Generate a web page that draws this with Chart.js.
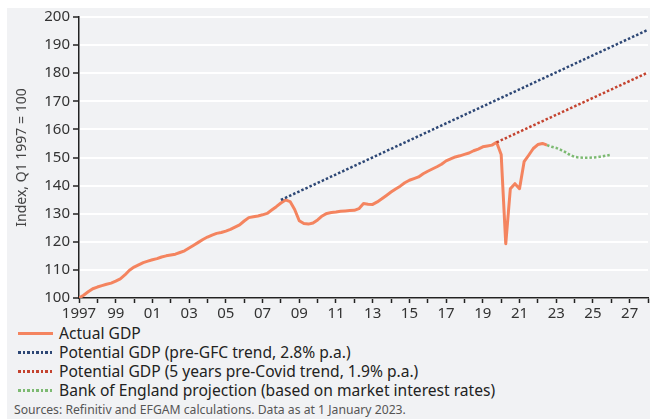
<!DOCTYPE html>
<html>
<head>
<meta charset="utf-8">
<script src="https://cdn.jsdelivr.net/npm/chart.js@4.4.0/dist/chart.umd.min.js"></script>
<style>
  html, body { margin: 0; padding: 0; background: #fff; }
  #wrap { position: relative; width: 650px; height: 419px; overflow: hidden; font-family: "Noto Sans", sans-serif; }
  #panel { position: absolute; left: 7px; top: 8px; right: 0; bottom: 0; background: #f1f2f4; }
  #gdpChart { position: absolute; left: 0; top: 0; }
  #legend { position: absolute; left: 18px; top: 324px; color: #222; font-size: 15.6px; line-height: 19px; }
  .legend-row { display: flex; align-items: center; white-space: nowrap; }
  .legend-swatch { width: 35px; height: 3px; margin-right: 6px; }
  #sources { position: absolute; left: 14px; top: 401px; color: #555; font-size: 12.2px; white-space: nowrap; }
</style>
</head>
<body>
<div id="wrap">
  <div id="panel"></div>
  <canvas id="gdpChart" width="650" height="322"></canvas>
  <div id="legend"></div>
  <div id="sources">Sources: Refinitiv and EFGAM calculations. Data as at 1 January 2023.</div>
</div>
<script>
// quarterly index, Q1 1997 = 100
const actualStart = 1997;
const actualGdp = [
  100.0, 101.0, 102.2, 103.3,
  103.9, 104.4, 104.9, 105.3,
  106.0, 106.8, 108.2, 109.9,
  111.0, 111.8, 112.6, 113.1,
  113.6, 114.0, 114.6, 115.0,
  115.3, 115.6, 116.2, 116.8,
  117.8, 118.8, 119.8, 120.8,
  121.7, 122.4, 123.0, 123.3,
  123.8, 124.4, 125.2, 126.0,
  127.4, 128.6, 128.9, 129.2,
  129.6, 130.1, 131.3, 132.5,
  133.8, 134.9, 134.3, 131.5,
  127.5, 126.5, 126.3, 126.7,
  127.8, 129.2, 130.1, 130.4,
  130.6, 130.9, 131.0, 131.1,
  131.2, 131.8, 133.6, 133.4,
  133.3, 134.2, 135.3, 136.5,
  137.7, 138.8, 139.8, 141.0,
  141.9, 142.5, 143.1, 144.2,
  145.1, 145.9, 146.7, 147.6,
  148.8, 149.5, 150.2, 150.6,
  151.1, 151.6, 152.4, 153.0,
  153.8, 154.1, 154.4, 155.4,
  151.1, 119.3, 138.9, 140.7,
  138.9, 148.5, 150.8, 153.2,
  154.6, 155.0, 154.4
];

const boeStart = 2022.5;
const boeProjection = [
  154.4, 153.8, 153.4, 152.7, 151.9, 150.9, 150.2, 150.0,
  149.9, 149.9, 150.0, 150.1, 150.4, 150.7, 151.0
];

// trend lines: [start, end]
const preGfcYears = [2008.0, 2027.92];
const preGfcValues = [134.9, 195.2];
const preCovidYears = [2019.75, 2027.92];
const preCovidValues = [155.4, 180.0];

const yTicks = [100, 110, 120, 130, 140, 150, 160, 170, 180, 190, 200];

const seriesInfo = [
  { label: 'Actual GDP', color: '#f4845f', dotted: false },
  { label: 'Potential GDP (pre-GFC trend, 2.8% p.a.)', color: '#2d4775', dotted: true },
  { label: 'Potential GDP (5 years pre-Covid trend, 1.9% p.a.)', color: '#c4432f', dotted: true },
  { label: 'Bank of England projection (based on market interest rates)', color: '#7dba72', dotted: true }
];

function quarterly(start, values) {
  return values.map((v, i) => ({ x: start + i / 4, y: v }));
}

function paired(xs, ys) {
  return xs.map((x, i) => ({ x: x, y: ys[i] }));
}

const dotted = { borderWidth: 2.5, borderDash: [2.5, 2], borderCapStyle: 'butt', pointRadius: 0, tension: 0 };

const ctx = document.getElementById('gdpChart');
new Chart(ctx, {
  type: 'line',
  data: {
    datasets: [
      Object.assign({ label: seriesInfo[1].label, data: paired(preGfcYears, preGfcValues), borderColor: seriesInfo[1].color }, dotted),
      Object.assign({ label: seriesInfo[2].label, data: paired(preCovidYears, preCovidValues), borderColor: seriesInfo[2].color }, dotted),
      Object.assign({ label: seriesInfo[3].label, data: quarterly(boeStart, boeProjection), borderColor: seriesInfo[3].color }, dotted),
      {
        label: seriesInfo[0].label,
        data: quarterly(actualStart, actualGdp),
        borderColor: seriesInfo[0].color,
        borderWidth: 3,
        pointRadius: 0,
        tension: 0,
        borderJoinStyle: 'round'
      }
    ]
  },
  options: {
    responsive: false,
    animation: false,
    layout: { padding: { top: 17, right: 0, left: 0, bottom: 0 } },
    plugins: { legend: { display: false }, tooltip: { enabled: false } },
    scales: {
      x: {
        type: 'linear',
        min: 1997,
        max: 2028,
        afterFit: scale => { scale.height = 24; },
        afterBuildTicks: scale => {
          const t = [];
          for (let yr = 1997; yr <= 2028; yr++) t.push({ value: yr });
          scale.ticks = t;
        },
        ticks: {
          autoSkip: false,
          maxRotation: 0,
          padding: 2,
          color: '#333',
          font: { family: 'Noto Sans', size: 15 },
          callback: v => {
            if ((v - 1997) % 2 !== 0 || v > 2027) return '';
            return v === 1997 ? '1997' : String(v).slice(2);
          }
        },
        grid: { drawOnChartArea: false, drawTicks: true, tickLength: 5, tickColor: '#222', tickWidth: 1.5 },
        border: { color: '#222', width: 1.5 }
      },
      y: {
        min: 100,
        max: 200,
        afterFit: scale => { scale.width = 79; },
        afterBuildTicks: scale => { scale.ticks = yTicks.map(v => ({ value: v })); },
        ticks: {
          padding: 3,
          color: '#333',
          font: { family: 'Noto Sans', size: 15 }
        },
        title: {
          display: true,
          text: 'Index, Q1 1997 = 100',
          color: '#444',
          font: { family: 'Noto Sans', size: 14 },
          padding: { top: 14, bottom: 0 }
        },
        grid: { color: '#ffffff', lineWidth: 2, tickColor: '#222', tickLength: 6, tickWidth: 1.5 },
        border: { color: '#222', width: 1.5 }
      }
    }
  }
});

// legend below the chart
const legend = document.getElementById('legend');
seriesInfo.forEach(s => {
  const row = document.createElement('div');
  row.className = 'legend-row';
  const swatch = document.createElement('span');
  swatch.className = 'legend-swatch';
  if (s.dotted) {
    swatch.style.height = '2.5px';
    swatch.style.background = `repeating-linear-gradient(90deg, ${s.color} 0 2.5px, transparent 2.5px 4.5px)`;
  } else {
    swatch.style.background = s.color;
  }
  const text = document.createElement('span');
  text.textContent = s.label;
  row.appendChild(swatch);
  row.appendChild(text);
  legend.appendChild(row);
});
</script>
</body>
</html>
